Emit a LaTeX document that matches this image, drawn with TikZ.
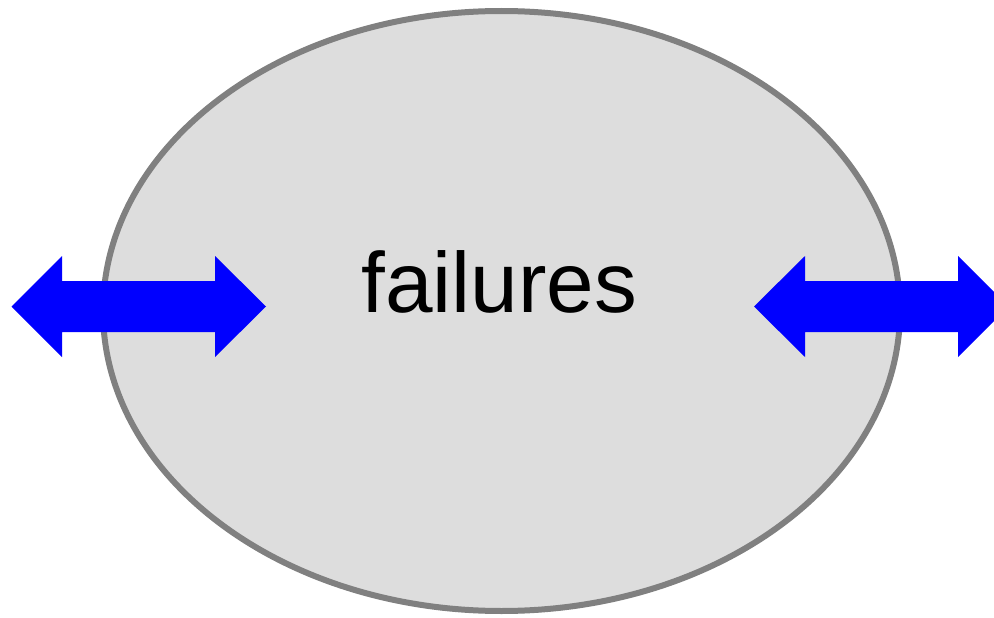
\documentclass[tikz,border=0pt]{standalone}
\usepackage{fontspec}
\setmainfont{Liberation Sans}
\definecolor{ellfill}{HTML}{DDDDDD}
\definecolor{ellline}{HTML}{808080}
\definecolor{arrblue}{HTML}{0000FF}
\tikzset{
  blob/.style={draw=ellline, line width=6pt, fill=ellfill},
  dblarrow/.style={fill=arrblue, draw=none},
  lbl/.style={font=\fontsize{85.5}{100}\selectfont, text=black, anchor=base, inner sep=0pt}
}
\begin{document}
\begin{tikzpicture}[x=1pt,y=-1pt]
\useasboundingbox (0,0) rectangle (994,618);
\clip (0,0) rectangle (994,618);
\fill[white] (0,0) rectangle (994,618);
\draw[blob] (501.5,311) ellipse [x radius=398.5, y radius=300];
\node[lbl] (label) at (499.5,312) {failures};
% left double arrow
\fill[dblarrow] (11.5,306.5) -- (62,256) -- (62,281) -- (215,281) -- (215,256) -- (266,306.5)
  -- (215,357) -- (215,332) -- (62,332) -- (62,357) -- cycle;
% right double arrow (clipped at the right edge)
\fill[dblarrow] (754,306.5) -- (805,256) -- (805,281) -- (958,281) -- (958,256) -- (1008.5,306.5)
  -- (958,357) -- (958,332) -- (805,332) -- (805,357) -- cycle;
\end{tikzpicture}
\end{document}
